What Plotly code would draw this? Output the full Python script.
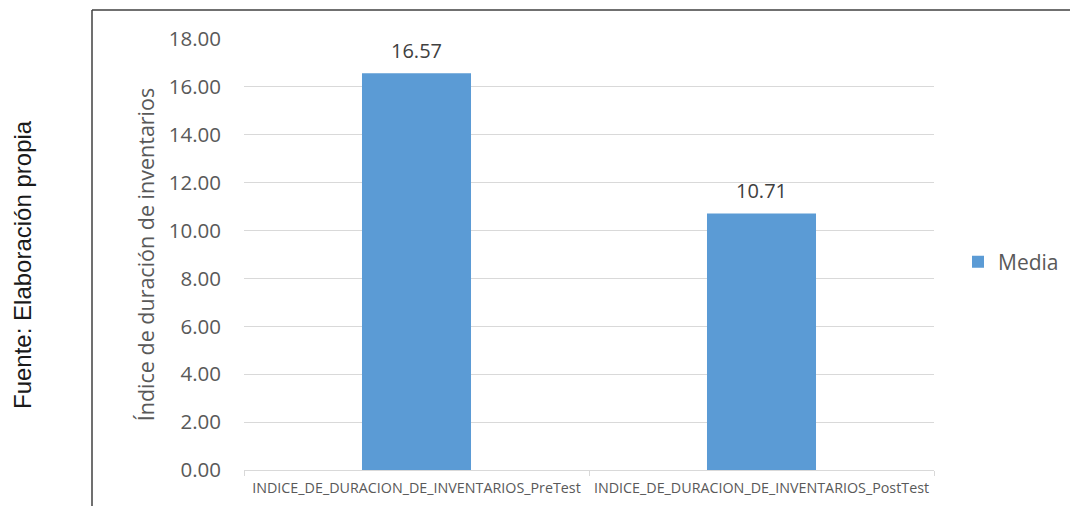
import plotly.graph_objects as go

categories = ["INDICE_DE_DURACION_DE_INVENTARIOS_PreTest",
              "INDICE_DE_DURACION_DE_INVENTARIOS_PostTest"]
media_values = [16.57, 10.71]
y_ticks = [0, 2, 4, 6, 8, 10, 12, 14, 16, 18]
y_tick_labels = [f"{v:.2f}" for v in y_ticks]
series_name = "Media"
y_title = "Índice de duración de inventarios"
source_text = "Fuente: Elaboración propia"

W, H = 1070, 506
L, R, T, B = 244, 136, 39, 36
pw, ph = W - L - R, H - T - B

def px_x(px):
    return (px - L) / pw

def px_y(py):
    return (H - B - py) / ph

FONT = "Open Sans, sans-serif"

fig = go.Figure()
fig.add_trace(go.Bar(
    x=categories, y=media_values, name=series_name,
    marker=dict(color="#5b9bd5", line=dict(width=0)),
    showlegend=True,
))

for c, v in zip(categories, media_values):
    fig.add_annotation(x=c, y=v, text=f"{v:.2f}", showarrow=False,
                       xanchor="center", yanchor="middle", yshift=23,
                       font=dict(family=FONT, size=20, color="#404040"))

fig.update_layout(
    width=W, height=H,
    margin=dict(l=L, r=R, t=T, b=B, pad=0, autoexpand=False),
    paper_bgcolor="white", plot_bgcolor="white",
    bargap=0.684,
    font=dict(family=FONT, color="#595959"),
    showlegend=True,
    legend=dict(x=px_x(958), y=px_y(262), xanchor="left", yanchor="middle",
                font=dict(family=FONT, size=21, color="#595959"), itemwidth=30,
                bgcolor="rgba(0,0,0,0)"),
    xaxis=dict(type="category", showgrid=False, showline=True,
               linecolor="#d9d9d9", linewidth=1,
               ticks="outside", tickson="boundaries", ticklen=5,
               tickcolor="#d9d9d9", ticklabelstandoff=5,
               tickfont=dict(family=FONT, size=14.3, color="#595959"),
               range=[-0.5, 1.5]),
    yaxis=dict(range=[0, 18], tickvals=y_ticks, ticktext=y_tick_labels,
               showgrid=True, gridcolor="#d9d9d9", gridwidth=1,
               zeroline=False, showline=False, ticks="",
               ticklabelstandoff=22,
               tickfont=dict(family=FONT, size=20.5, color="#595959"),
               title=dict(text=y_title, font=dict(family=FONT, size=21.5, color="#595959"),
                          standoff=8)),
)

# Outer frame (left and top border)
fig.add_shape(type="line", xref="paper", yref="paper",
              x0=px_x(92), x1=px_x(92), y0=px_y(10), y1=px_y(510),
              line=dict(color="#404040", width=1.5))
fig.add_shape(type="line", xref="paper", yref="paper",
              x0=px_x(92), x1=px_x(1075), y0=px_y(10), y1=px_y(10),
              line=dict(color="#404040", width=1.5))

fig.add_annotation(text=source_text, xref="paper", yref="paper",
                   x=px_x(22), y=px_y(265), textangle=-90, showarrow=False,
                   xanchor="center", yanchor="middle",
                   font=dict(family="Liberation Sans, Arial, sans-serif",
                             size=24, color="#1a1a1a"))

fig.write_html("out.html")
